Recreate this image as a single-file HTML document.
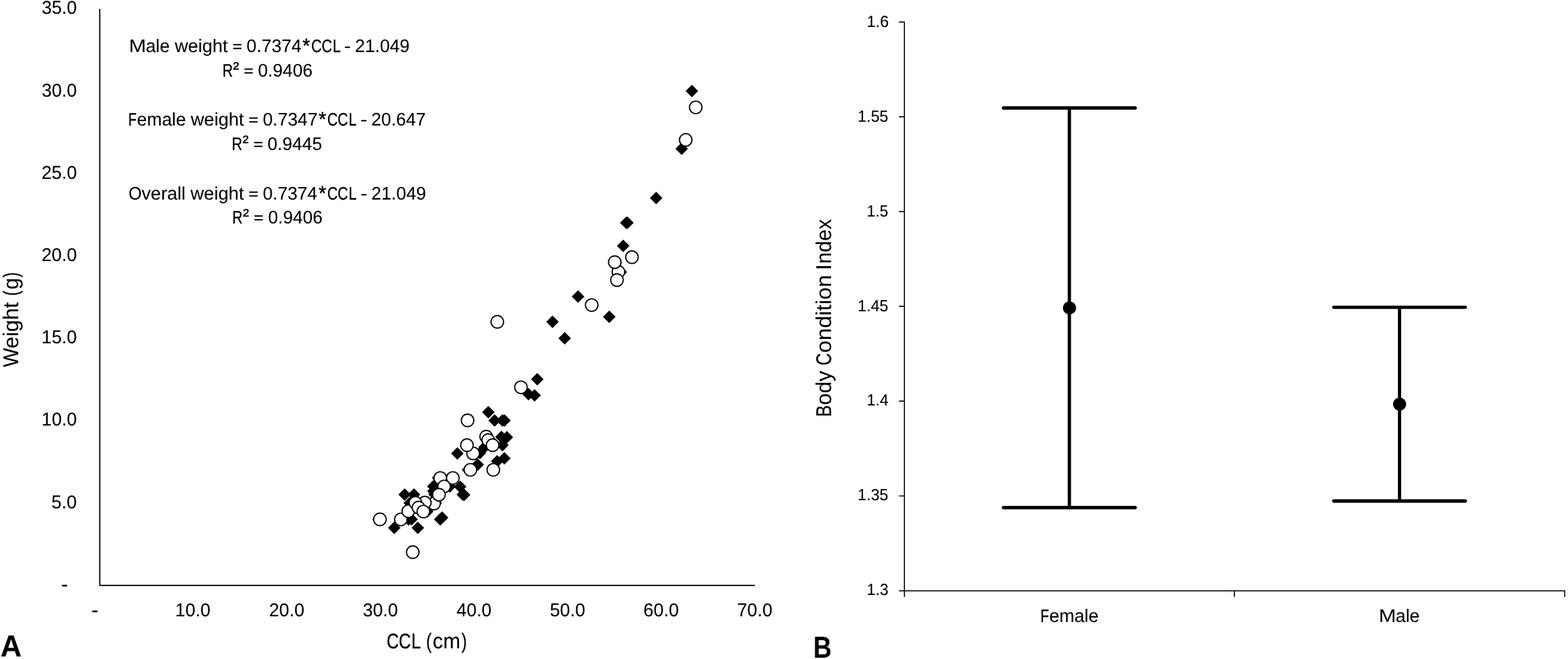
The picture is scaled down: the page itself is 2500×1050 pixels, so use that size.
<!DOCTYPE html>
<html lang="en"><head><meta charset="utf-8"><title>Weight vs CCL and Body Condition Index by sex</title>
<style>
html,body{margin:0;padding:0;background:#fff;}
body{width:2500px;height:1050px;overflow:hidden;position:relative;}
svg{display:block;position:absolute;left:0;top:0;}
text{font-family:"Liberation Sans", "DejaVu Sans", sans-serif;fill:#000;stroke:#000;stroke-linejoin:round;white-space:pre;text-rendering:geometricPrecision;}
.tickA{font-size:29.7px;stroke-width:0.1px;}
.eq{font-size:29px;stroke-width:0.1px;}
.title{font-size:34.2px;stroke-width:0.1px;}
.tickB{font-size:25.7px;stroke-width:0.1px;}
.panel{font-size:48.2px;stroke-width:0.15px;font-weight:bold;}
</style></head><body>
<svg width="2500" height="1050" viewBox="0 0 2500 1050">
<rect x="0" y="0" width="2500" height="1050" fill="#ffffff"/>
<g id="panel-a">
<path d="M159.1 14.8V932.75H1203.0" fill="none" stroke="#000" stroke-width="1.85" stroke-linejoin="round" stroke-linecap="round"/>
<text class="tickA" xml:space="preserve"><tspan x="66.47" y="22" textLength="56.22" lengthAdjust="spacingAndGlyphs">35.0</tspan></text>
<text class="tickA" xml:space="preserve"><tspan x="66.47" y="154" textLength="56.22" lengthAdjust="spacingAndGlyphs">30.0</tspan></text>
<text class="tickA" xml:space="preserve"><tspan x="66.20" y="285" textLength="56.59" lengthAdjust="spacingAndGlyphs">25.0</tspan></text>
<text class="tickA" xml:space="preserve"><tspan x="66.20" y="416" textLength="56.59" lengthAdjust="spacingAndGlyphs">20.0</tspan></text>
<text class="tickA" xml:space="preserve"><tspan x="66.37" y="547" textLength="56.25" lengthAdjust="spacingAndGlyphs">15.0</tspan></text>
<text class="tickA" xml:space="preserve"><tspan x="66.37" y="678" textLength="56.25" lengthAdjust="spacingAndGlyphs">10.0</tspan></text>
<text class="tickA" xml:space="preserve"><tspan x="82.00" y="810" textLength="40.55" lengthAdjust="spacingAndGlyphs">5.0</tspan></text>
<text class="tickA" xml:space="preserve"><tspan x="279.33" y="982" textLength="56.25" lengthAdjust="spacingAndGlyphs">10.0</tspan></text>
<text class="tickA" xml:space="preserve"><tspan x="428.94" y="982" textLength="56.43" lengthAdjust="spacingAndGlyphs">20.0</tspan></text>
<text class="tickA" xml:space="preserve"><tspan x="578.45" y="982" textLength="56.10" lengthAdjust="spacingAndGlyphs">30.0</tspan></text>
<text class="tickA" xml:space="preserve"><tspan x="728.10" y="982" textLength="55.62" lengthAdjust="spacingAndGlyphs">40.0</tspan></text>
<text class="tickA" xml:space="preserve"><tspan x="876.72" y="982" textLength="56.40" lengthAdjust="spacingAndGlyphs">50.0</tspan></text>
<text class="tickA" xml:space="preserve"><tspan x="1025.78" y="982" textLength="56.65" lengthAdjust="spacingAndGlyphs">60.0</tspan></text>
<text class="tickA" xml:space="preserve"><tspan x="1175.15" y="982" textLength="56.49" lengthAdjust="spacingAndGlyphs">70.0</tspan></text>
<text class="tickA" xml:space="preserve"><tspan x="97.50" y="941" textLength="10.79" lengthAdjust="spacingAndGlyphs" stroke-width="0.2">-</tspan></text>
<text class="tickA" xml:space="preserve"><tspan x="145.82" y="982" textLength="10.90" lengthAdjust="spacingAndGlyphs" stroke-width="0.2">-</tspan></text>
<text class="eq" xml:space="preserve"><tspan x="205.47" y="83" textLength="27.55" lengthAdjust="spacingAndGlyphs" font-size="29.15" stroke-width="0">M</tspan><tspan x="232.50" y="83" textLength="45.90" lengthAdjust="spacingAndGlyphs">ale </tspan><tspan x="278.80" y="83" textLength="92.33" lengthAdjust="spacingAndGlyphs">weight </tspan><tspan x="370.70" y="82" textLength="22.65" lengthAdjust="spacingAndGlyphs" font-size="24" stroke-width="0.4">= </tspan><tspan x="392.98" y="83" textLength="87.84" lengthAdjust="spacingAndGlyphs">0.7374</tspan><tspan x="482.34" y="84" textLength="12.08" lengthAdjust="spacingAndGlyphs" font-size="32.8" stroke-width="0.5">*</tspan><tspan x="496.14" y="83" textLength="16.70" lengthAdjust="spacingAndGlyphs" font-size="28.64" stroke-width="0.35">C</tspan><tspan x="512.64" y="83" textLength="16.70" lengthAdjust="spacingAndGlyphs" font-size="28.64" stroke-width="0.35">C</tspan><tspan x="530.50" y="83" textLength="18.10" lengthAdjust="spacingAndGlyphs" font-size="28.62" stroke-width="0.36">L </tspan><tspan x="548.53" y="83" textLength="20.14" lengthAdjust="spacingAndGlyphs" stroke-width="0.05">- </tspan><tspan x="566.06" y="83" textLength="87.10" lengthAdjust="spacingAndGlyphs">21.049</tspan></text>
<text class="eq" xml:space="preserve"><tspan x="354.69" y="122" textLength="16.50" lengthAdjust="spacingAndGlyphs" font-size="28.64" stroke-width="0.35">R</tspan><tspan x="371.56" y="119" textLength="18.00" lengthAdjust="spacingAndGlyphs" font-size="28.9" stroke-width="0.4">² </tspan><tspan x="388.80" y="121" textLength="22.65" lengthAdjust="spacingAndGlyphs" font-size="24" stroke-width="0.4">= </tspan><tspan x="411.22" y="122" textLength="87.09" lengthAdjust="spacingAndGlyphs">0.9406</tspan></text>
<text class="eq" xml:space="preserve"><tspan x="204.53" y="200" textLength="13.33" lengthAdjust="spacingAndGlyphs" font-size="28.56" stroke-width="0.4">F</tspan><tspan x="218.35" y="200" textLength="86.00" lengthAdjust="spacingAndGlyphs">emale </tspan><tspan x="304.20" y="200" textLength="92.92" lengthAdjust="spacingAndGlyphs">weight </tspan><tspan x="396.36" y="199" textLength="22.99" lengthAdjust="spacingAndGlyphs" font-size="24" stroke-width="0.4">= </tspan><tspan x="418.91" y="200" textLength="87.49" lengthAdjust="spacingAndGlyphs">0.7347</tspan><tspan x="508.04" y="201" textLength="12.08" lengthAdjust="spacingAndGlyphs" font-size="32.8" stroke-width="0.5">*</tspan><tspan x="521.64" y="200" textLength="16.70" lengthAdjust="spacingAndGlyphs" font-size="28.64" stroke-width="0.35">C</tspan><tspan x="538.14" y="200" textLength="16.70" lengthAdjust="spacingAndGlyphs" font-size="28.64" stroke-width="0.35">C</tspan><tspan x="556.00" y="200" textLength="18.10" lengthAdjust="spacingAndGlyphs" font-size="28.62" stroke-width="0.36">L </tspan><tspan x="574.54" y="200" textLength="20.43" lengthAdjust="spacingAndGlyphs" stroke-width="0.05">- </tspan><tspan x="592.08" y="200" textLength="86.80" lengthAdjust="spacingAndGlyphs">20.647</tspan></text>
<text class="eq" xml:space="preserve"><tspan x="369.41" y="239" textLength="16.83" lengthAdjust="spacingAndGlyphs" font-size="28.67" stroke-width="0.33">R</tspan><tspan x="386.67" y="236" textLength="17.78" lengthAdjust="spacingAndGlyphs" font-size="28.9" stroke-width="0.4">² </tspan><tspan x="404.15" y="238" textLength="22.39" lengthAdjust="spacingAndGlyphs" font-size="24" stroke-width="0.4">= </tspan><tspan x="426.56" y="239" textLength="86.95" lengthAdjust="spacingAndGlyphs">0.9445</tspan></text>
<text class="eq" xml:space="preserve"><tspan x="205.00" y="318" textLength="20.91" lengthAdjust="spacingAndGlyphs">O</tspan><tspan x="225.68" y="318" textLength="78.26" lengthAdjust="spacingAndGlyphs">verall </tspan><tspan x="303.80" y="318" textLength="93.33" lengthAdjust="spacingAndGlyphs">weight </tspan><tspan x="396.36" y="317" textLength="22.99" lengthAdjust="spacingAndGlyphs" font-size="24" stroke-width="0.4">= </tspan><tspan x="418.97" y="318" textLength="86.87" lengthAdjust="spacingAndGlyphs">0.7374</tspan><tspan x="508.04" y="319" textLength="12.08" lengthAdjust="spacingAndGlyphs" font-size="32.8" stroke-width="0.5">*</tspan><tspan x="521.64" y="318" textLength="16.70" lengthAdjust="spacingAndGlyphs" font-size="28.64" stroke-width="0.35">C</tspan><tspan x="538.14" y="318" textLength="16.70" lengthAdjust="spacingAndGlyphs" font-size="28.64" stroke-width="0.35">C</tspan><tspan x="556.00" y="318" textLength="18.10" lengthAdjust="spacingAndGlyphs" font-size="28.62" stroke-width="0.36">L </tspan><tspan x="574.69" y="318" textLength="19.90" lengthAdjust="spacingAndGlyphs" stroke-width="0.05">- </tspan><tspan x="592.06" y="318" textLength="87.43" lengthAdjust="spacingAndGlyphs">21.049</tspan></text>
<text class="eq" xml:space="preserve"><tspan x="370.29" y="356" textLength="16.50" lengthAdjust="spacingAndGlyphs" font-size="28.64" stroke-width="0.35">R</tspan><tspan x="387.16" y="353" textLength="18.00" lengthAdjust="spacingAndGlyphs" font-size="28.9" stroke-width="0.4">² </tspan><tspan x="404.46" y="355" textLength="22.99" lengthAdjust="spacingAndGlyphs" font-size="24" stroke-width="0.4">= </tspan><tspan x="427.56" y="356" textLength="86.87" lengthAdjust="spacingAndGlyphs">0.9406</tspan></text>
<text class="title" xml:space="preserve"><tspan x="616.43" y="1033" textLength="19.38" lengthAdjust="spacingAndGlyphs" font-size="33.79" stroke-width="0.38">C</tspan><tspan x="635.63" y="1033" textLength="19.38" lengthAdjust="spacingAndGlyphs" font-size="33.79" stroke-width="0.38">C</tspan><tspan x="655.80" y="1033" textLength="21.88" lengthAdjust="spacingAndGlyphs" font-size="33.85" stroke-width="0.34">L </tspan><tspan x="679.60" y="1033" textLength="8.59" lengthAdjust="spacingAndGlyphs" font-size="33.78" stroke-width="0.39">(</tspan><tspan x="689.84" y="1033" textLength="44.20" lengthAdjust="spacingAndGlyphs">cm</tspan><tspan x="735.95" y="1033" textLength="8.25" lengthAdjust="spacingAndGlyphs" font-size="33.76" stroke-width="0.4">)</tspan></text>
<text class="title" xml:space="preserve" transform="translate(29 585) rotate(-90)"><tspan x="-0.07" y="0" textLength="30.59" lengthAdjust="spacingAndGlyphs">W</tspan><tspan x="29.72" y="0" textLength="83.32" lengthAdjust="spacingAndGlyphs">eight </tspan><tspan x="113.73" y="0" textLength="8.06" lengthAdjust="spacingAndGlyphs" font-size="33.71" stroke-width="0.44">(</tspan><tspan x="123.73" y="0" textLength="18.51" lengthAdjust="spacingAndGlyphs">g</tspan><tspan x="142.96" y="0" textLength="8.06" lengthAdjust="spacingAndGlyphs" font-size="33.73" stroke-width="0.42">)</tspan></text>
<text class="panel" xml:space="preserve"><tspan x="0.67" y="1046" textLength="33.87" lengthAdjust="spacingAndGlyphs">A</tspan></text>
<g fill="#000">
<path d="M603.6 817.6l10.0 10.0l-10.0 10.0l-10.0 -10.0z"/>
<path d="M628.6 830.9l10.0 10.0l-10.0 10.0l-10.0 -10.0z"/>
<path d="M666.2 830.9l10.0 10.0l-10.0 10.0l-10.0 -10.0z"/>
<path d="M701.9 817.6l10.0 10.0l-10.0 10.0l-10.0 -10.0z"/>
<path d="M704.8 814.8l10.0 10.0l-10.0 10.0l-10.0 -10.0z"/>
<path d="M651.4 817.6l10.0 10.0l-10.0 10.0l-10.0 -10.0z"/>
<path d="M656.2 817.6l10.0 10.0l-10.0 10.0l-10.0 -10.0z"/>
<path d="M645.2 778.1l10.0 10.0l-10.0 10.0l-10.0 -10.0z"/>
<path d="M660.0 778.1l10.0 10.0l-10.0 10.0l-10.0 -10.0z"/>
<path d="M653.3 791.4l10.0 10.0l-10.0 10.0l-10.0 -10.0z"/>
<path d="M681.4 804.8l10.0 10.0l-10.0 10.0l-10.0 -10.0z"/>
<path d="M694.8 791.4l10.0 10.0l-10.0 10.0l-10.0 -10.0z"/>
<path d="M690.9 764.9l10.0 10.0l-10.0 10.0l-10.0 -10.0z"/>
<path d="M691.0 772.4l10.0 10.0l-10.0 10.0l-10.0 -10.0z"/>
<path d="M692.8 777.8l10.0 10.0l-10.0 10.0l-10.0 -10.0z"/>
<path d="M698.6 751.6l10.0 10.0l-10.0 10.0l-10.0 -10.0z"/>
<path d="M729.2 712.4l10.0 10.0l-10.0 10.0l-10.0 -10.0z"/>
<path d="M761.6 730.3l10.0 10.0l-10.0 10.0l-10.0 -10.0z"/>
<path d="M746.2 738.6l10.0 10.0l-10.0 10.0l-10.0 -10.0z"/>
<path d="M765.2 711.8l10.0 10.0l-10.0 10.0l-10.0 -10.0z"/>
<path d="M772.9 702.2l10.0 10.0l-10.0 10.0l-10.0 -10.0z"/>
<path d="M804.1 720.3l10.0 10.0l-10.0 10.0l-10.0 -10.0z"/>
<path d="M792.7 725.0l10.0 10.0l-10.0 10.0l-10.0 -10.0z"/>
<path d="M801.0 699.2l10.0 10.0l-10.0 10.0l-10.0 -10.0z"/>
<path d="M737.8 778.0l10.0 10.0l-10.0 10.0l-10.0 -10.0z"/>
<path d="M740.0 778.4l10.0 10.0l-10.0 10.0l-10.0 -10.0z"/>
<path d="M733.6 765.5l10.0 10.0l-10.0 10.0l-10.0 -10.0z"/>
<path d="M717.2 765.0l10.0 10.0l-10.0 10.0l-10.0 -10.0z"/>
<path d="M778.6 646.7l10.0 10.0l-10.0 10.0l-10.0 -10.0z"/>
<path d="M788.6 660.0l10.0 10.0l-10.0 10.0l-10.0 -10.0z"/>
<path d="M801.0 660.0l10.0 10.0l-10.0 10.0l-10.0 -10.0z"/>
<path d="M804.3 660.0l10.0 10.0l-10.0 10.0l-10.0 -10.0z"/>
<path d="M799.5 686.2l10.0 10.0l-10.0 10.0l-10.0 -10.0z"/>
<path d="M808.1 686.7l10.0 10.0l-10.0 10.0l-10.0 -10.0z"/>
<path d="M880.9 502.8l10.0 10.0l-10.0 10.0l-10.0 -10.0z"/>
<path d="M900.3 529.0l10.0 10.0l-10.0 10.0l-10.0 -10.0z"/>
<path d="M971.4 494.8l10.0 10.0l-10.0 10.0l-10.0 -10.0z"/>
<path d="M856.6 594.2l10.0 10.0l-10.0 10.0l-10.0 -10.0z"/>
<path d="M842.6 617.9l10.0 10.0l-10.0 10.0l-10.0 -10.0z"/>
<path d="M852.3 620.1l10.0 10.0l-10.0 10.0l-10.0 -10.0z"/>
<path d="M921.6 462.4l10.0 10.0l-10.0 10.0l-10.0 -10.0z"/>
<path d="M1046.2 305.6l10.0 10.0l-10.0 10.0l-10.0 -10.0z"/>
<path d="M998.5 345.1l10.0 10.0l-10.0 10.0l-10.0 -10.0z"/>
<path d="M1000.3 345.1l10.0 10.0l-10.0 10.0l-10.0 -10.0z"/>
<path d="M993.6 381.8l10.0 10.0l-10.0 10.0l-10.0 -10.0z"/>
<path d="M989.8 423.5l10.0 10.0l-10.0 10.0l-10.0 -10.0z"/>
<path d="M1103.1 135.0l10.0 10.0l-10.0 10.0l-10.0 -10.0z"/>
<path d="M1086.9 226.9l10.0 10.0l-10.0 10.0l-10.0 -10.0z"/>
</g>
<g fill="#fff" stroke="#000" stroke-width="1.90">
<circle cx="605.7" cy="827.5" r="10.0"/>
<circle cx="658.1" cy="879.8" r="10.0"/>
<circle cx="639.1" cy="827.6" r="10.0"/>
<circle cx="651.0" cy="814.6" r="10.0"/>
<circle cx="692.0" cy="802.3" r="10.0"/>
<circle cx="677.4" cy="800.8" r="10.0"/>
<circle cx="662.4" cy="801.1" r="10.0"/>
<circle cx="667.3" cy="808.7" r="10.0"/>
<circle cx="675.0" cy="815.1" r="10.0"/>
<circle cx="701.9" cy="761.6" r="10.0"/>
<circle cx="722.0" cy="761.6" r="10.0"/>
<circle cx="708.1" cy="775.1" r="10.0"/>
<circle cx="699.8" cy="788.2" r="10.0"/>
<circle cx="750.0" cy="748.6" r="10.0"/>
<circle cx="786.5" cy="748.6" r="10.0"/>
<circle cx="754.3" cy="722.4" r="10.0"/>
<circle cx="744.5" cy="709.3" r="10.0"/>
<circle cx="775.2" cy="695.7" r="10.0"/>
<circle cx="778.4" cy="701.2" r="10.0"/>
<circle cx="785.4" cy="709.3" r="10.0"/>
<circle cx="745.5" cy="669.8" r="10.0"/>
<circle cx="792.9" cy="512.8" r="10.0"/>
<circle cx="830.6" cy="617.1" r="10.0"/>
<circle cx="943.4" cy="486.1" r="10.0"/>
<circle cx="1007.6" cy="409.8" r="10.0"/>
<circle cx="986.0" cy="433.2" r="10.0"/>
<circle cx="980.2" cy="417.7" r="10.0"/>
<circle cx="983.7" cy="446.2" r="10.0"/>
<circle cx="1109.3" cy="171.1" r="10.0"/>
<circle cx="1093.3" cy="222.9" r="10.0"/>
</g>
</g>
<g id="panel-b">
<path d="M1433.3 35.06H1441.9V950.9M1433.3 186.10H1441.9M1433.3 337.14H1441.9M1433.3 488.18H1441.9M1433.3 639.22H1441.9M1433.3 790.26H1441.9M1433.3 941.30H2494.7V950.9M1968.1 941.30V950.9" fill="none" stroke="#000" stroke-width="1.7" stroke-linejoin="round"/>
<text class="title" xml:space="preserve" transform="translate(1325 662.1) rotate(-90)"><tspan x="-2.13" y="0" textLength="18.76" lengthAdjust="spacingAndGlyphs" font-size="33.88" stroke-width="0.32">B</tspan><tspan x="16.66" y="0" textLength="64.11" lengthAdjust="spacingAndGlyphs">ody </tspan><tspan x="79.94" y="0" textLength="19.64" lengthAdjust="spacingAndGlyphs" font-size="33.84" stroke-width="0.35">C</tspan><tspan x="99.85" y="0" textLength="134.22" lengthAdjust="spacingAndGlyphs">ondition </tspan><tspan x="231.93" y="0" textLength="9.34" lengthAdjust="spacingAndGlyphs">I</tspan><tspan x="241.85" y="0" textLength="71.15" lengthAdjust="spacingAndGlyphs">ndex</tspan></text>
<text class="panel" xml:space="preserve"><tspan x="1296.64" y="1048" textLength="29.15" lengthAdjust="spacingAndGlyphs">B</tspan></text>
<text class="tickB" xml:space="preserve"><tspan x="1381.88" y="43" textLength="35.15" lengthAdjust="spacingAndGlyphs">1.6</tspan></text>
<text class="tickB" xml:space="preserve"><tspan x="1367.55" y="194" textLength="48.74" lengthAdjust="spacingAndGlyphs">1.55</tspan></text>
<text class="tickB" xml:space="preserve"><tspan x="1382.05" y="345" textLength="34.09" lengthAdjust="spacingAndGlyphs">1.5</tspan></text>
<text class="tickB" xml:space="preserve"><tspan x="1367.55" y="496" textLength="48.74" lengthAdjust="spacingAndGlyphs">1.45</tspan></text>
<text class="tickB" xml:space="preserve"><tspan x="1381.99" y="646" textLength="34.63" lengthAdjust="spacingAndGlyphs">1.4</tspan></text>
<text class="tickB" xml:space="preserve"><tspan x="1367.55" y="797" textLength="48.74" lengthAdjust="spacingAndGlyphs">1.35</tspan></text>
<text class="tickB" xml:space="preserve"><tspan x="1382.05" y="948" textLength="34.33" lengthAdjust="spacingAndGlyphs">1.3</tspan></text>
<text class="eq" xml:space="preserve"><tspan x="1659.09" y="991" textLength="13.46" lengthAdjust="spacingAndGlyphs" font-size="28.56" stroke-width="0.4">F</tspan><tspan x="1672.99" y="991" textLength="78.55" lengthAdjust="spacingAndGlyphs">emale</tspan></text>
<text class="eq" xml:space="preserve"><tspan x="2198.16" y="991" textLength="27.68" lengthAdjust="spacingAndGlyphs" font-size="29.15" stroke-width="0">M</tspan><tspan x="2225.28" y="991" textLength="38.24" lengthAdjust="spacingAndGlyphs">ale</tspan></text>
<g stroke="#000" stroke-width="5.4" stroke-linecap="round" fill="none">
<path d="M1600.0 171.95H1809.9M1600.0 808.80H1809.9"/>
<path d="M2126.7 489.60H2336.2M2126.7 798.20H2336.2"/>
</g>
<path d="M1705.0 171.95V808.8M2231.4 489.6V798.2" stroke="#000" stroke-width="5.2" fill="none"/>
<circle cx="1705.2" cy="490.7" r="10.5" fill="#000"/>
<circle cx="2231.5" cy="643.9" r="10.5" fill="#000"/>
</g>
</svg>
</body></html>
